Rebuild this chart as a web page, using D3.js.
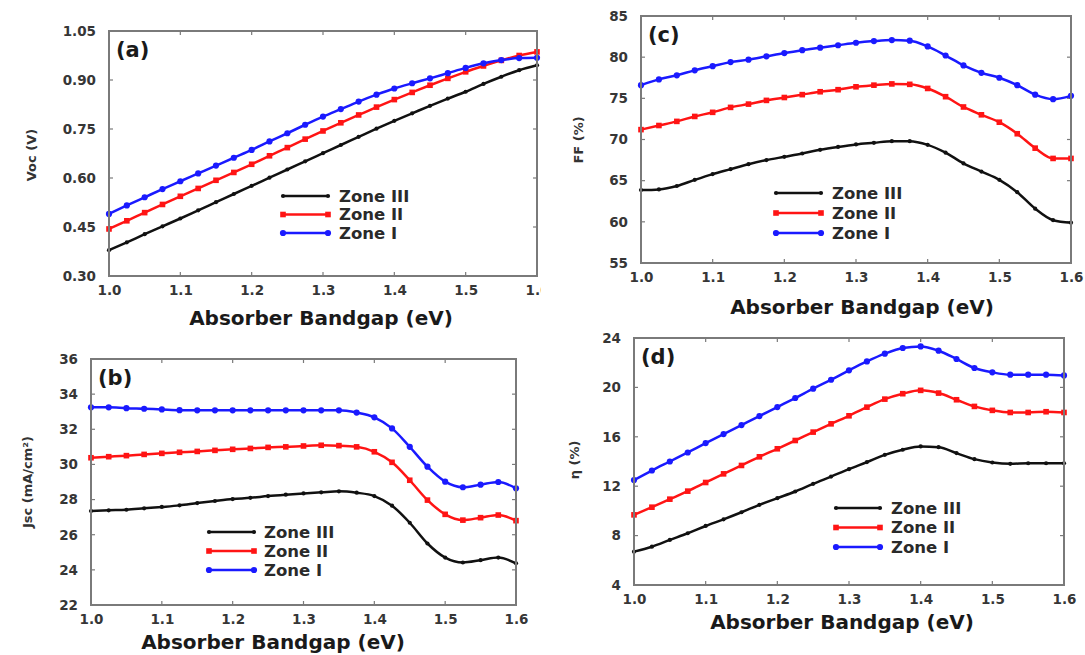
<!DOCTYPE html>
<html>
<head>
<meta charset="utf-8">
<script src="https://cdn.jsdelivr.net/npm/d3@7/dist/d3.min.js"></script>
<style>
  html, body { margin: 0; padding: 0; background: #fff; }
  svg { display: block; }
  text { font-family: "DejaVu Sans", Verdana, sans-serif; font-weight: bold; }
</style>
</head>
<body>
<svg id="fig" width="1085" height="655"></svg>
<script>
// Absorber bandgap sweep (eV), shared by all four panels
const bandgap = [1.000, 1.025, 1.050, 1.075, 1.100, 1.125, 1.150, 1.175, 1.200, 1.225, 1.250, 1.275, 1.300,
                 1.325, 1.350, 1.375, 1.400, 1.425, 1.450, 1.475, 1.500, 1.525, 1.550, 1.575, 1.600];

const zoneNames = ["Zone III", "Zone II", "Zone I"];
const xTicks = [1.0, 1.1, 1.2, 1.3, 1.4, 1.5, 1.6];

// (a) Open-circuit voltage, V
const vocZone1 = [0.490, 0.516, 0.541, 0.566, 0.590, 0.614, 0.638, 0.662, 0.686, 0.712, 0.737, 0.763, 0.788,
                  0.811, 0.834, 0.855, 0.874, 0.890, 0.905, 0.921, 0.937, 0.951, 0.961, 0.967, 0.968];
const vocZone2 = [0.444, 0.469, 0.494, 0.519, 0.544, 0.568, 0.593, 0.617, 0.642, 0.668, 0.693, 0.719, 0.744,
                  0.769, 0.793, 0.817, 0.840, 0.862, 0.884, 0.905, 0.925, 0.943, 0.960, 0.975, 0.986];
const vocZone3 = [0.379, 0.403, 0.428, 0.452, 0.476, 0.501, 0.526, 0.551, 0.576, 0.601, 0.626, 0.651, 0.676,
                  0.701, 0.726, 0.751, 0.775, 0.798, 0.821, 0.843, 0.864, 0.888, 0.910, 0.930, 0.945];
const vocTicks = [0.30, 0.45, 0.60, 0.75, 0.90, 1.05];

// (b) Short-circuit current density, mA/cm2
const jscZone1 = [33.25, 33.25, 33.20, 33.17, 33.13, 33.09, 33.08, 33.08, 33.08, 33.08, 33.08, 33.08, 33.08,
                  33.08, 33.08, 32.95, 32.68, 32.05, 31.00, 29.87, 29.02, 28.70, 28.85, 29.00, 28.64];
const jscZone2 = [30.38, 30.44, 30.50, 30.57, 30.63, 30.69, 30.74, 30.80, 30.86, 30.91, 30.97, 31.00, 31.05,
                  31.09, 31.07, 31.00, 30.72, 30.12, 29.10, 27.97, 27.16, 26.83, 26.97, 27.12, 26.80];
const jscZone3 = [27.35, 27.39, 27.42, 27.50, 27.58, 27.67, 27.80, 27.92, 28.03, 28.10, 28.20, 28.28, 28.35,
                  28.41, 28.47, 28.39, 28.20, 27.65, 26.68, 25.50, 24.70, 24.42, 24.55, 24.70, 24.37];
const jscTicks = [22, 24, 26, 28, 30, 32, 34, 36];

// (c) Fill factor, %
const ffZone1 = [76.60, 77.30, 77.80, 78.40, 78.90, 79.40, 79.70, 80.10, 80.50, 80.85, 81.15, 81.45, 81.75,
                 81.95, 82.07, 82.00, 81.30, 80.20, 79.00, 78.10, 77.50, 76.60, 75.45, 74.90, 75.30];
const ffZone2 = [71.20, 71.70, 72.20, 72.80, 73.30, 73.90, 74.30, 74.75, 75.10, 75.45, 75.80, 76.05, 76.40,
                 76.60, 76.75, 76.70, 76.20, 75.20, 73.95, 73.00, 72.10, 70.70, 68.95, 67.70, 67.70];
const ffZone3 = [63.86, 63.94, 64.35, 65.10, 65.80, 66.40, 67.00, 67.50, 67.90, 68.30, 68.75, 69.10, 69.40,
                 69.60, 69.80, 69.80, 69.35, 68.40, 67.10, 66.10, 65.10, 63.60, 61.60, 60.20, 59.90];
const ffTicks = [55, 60, 65, 70, 75, 80, 85];

// (d) Power conversion efficiency, %
const etaZone1 = [12.50, 13.27, 14.00, 14.73, 15.49, 16.22, 16.95, 17.68, 18.41, 19.14, 19.90, 20.62, 21.38,
                  22.10, 22.73, 23.19, 23.32, 22.97, 22.30, 21.57, 21.22, 21.03, 21.03, 21.03, 20.97];
const etaZone2 = [9.68, 10.30, 10.95, 11.60, 12.30, 13.00, 13.68, 14.38, 15.03, 15.70, 16.38, 17.05, 17.70,
                  18.40, 19.05, 19.49, 19.76, 19.54, 19.00, 18.46, 18.14, 17.97, 17.97, 18.03, 17.97];
const etaZone3 = [6.70, 7.10, 7.65, 8.19, 8.78, 9.32, 9.89, 10.49, 11.03, 11.57, 12.19, 12.78, 13.38,
                  13.95, 14.54, 14.95, 15.22, 15.16, 14.68, 14.19, 13.92, 13.81, 13.86, 13.86, 13.86];
const etaTicks = [4, 8, 12, 16, 20, 24];

// Series styling, in legend order (Zone III, Zone II, Zone I)
const seriesStyle = [
  { color: "#111111", marker: "dot" },
  { color: "#ff1414", marker: "square" },
  { color: "#1a1aff", marker: "circle" }
];

// Panel geometry and labels; clipRight trims the bottom labels where the panel was cropped
const panels = [
  { tag: "(a)", ylabel: "Voc (V)", ticks: vocTicks, fmt: d3.format(".2f"),
    series: [vocZone3, vocZone2, vocZone1],
    box: { l: 109, r: 537, t: 31, b: 276 }, clipRight: 541,
    ylabelPos: [31, 155], titleX: 321, titleDy: 42,
    legend: { x1: 283, x2: 328, tx: 339, y: 196, gap: 18.5 } },
  { tag: "(b)", ylabel: "Jsc (mA/cm\u00B2)", ticks: jscTicks, fmt: d3.format("d"),
    series: [jscZone3, jscZone2, jscZone1],
    box: { l: 91, r: 516, t: 359, b: 605 },
    ylabelPos: [27, 482], titleX: 273, titleDy: 37,
    legend: { x1: 209, x2: 254, tx: 264, y: 532, gap: 19 } },
  { tag: "(c)", ylabel: "FF (%)", ticks: ffTicks, fmt: d3.format("d"),
    series: [ffZone3, ffZone2, ffZone1],
    box: { l: 641, r: 1071, t: 16, b: 263 },
    ylabelPos: [578, 140], titleX: 862, titleDy: 44,
    legend: { x1: 776, x2: 821, tx: 832, y: 193, gap: 20 } },
  { tag: "(d)", ylabel: "\u03B7 (%)", ticks: etaTicks, fmt: d3.format("d"),
    series: [etaZone3, etaZone2, etaZone1],
    box: { l: 634, r: 1064, t: 338, b: 585 },
    ylabelPos: [574, 460], titleX: 842, titleDy: 37,
    legend: { x1: 836, x2: 880, tx: 891, y: 508, gap: 19.5 } }
];

const svg = d3.select("#fig");
const defs = svg.append("defs");
const frameColor = "#7a7a7a";
const tickTextColor = "#363636";

function drawMarker(g, kind, color, x, y) {
  if (kind === "square") {
    g.append("rect").attr("x", x - 2.8).attr("y", y - 2.8)
      .attr("width", 5.6).attr("height", 5.6).attr("fill", color);
  } else if (kind === "circle") {
    g.append("circle").attr("cx", x).attr("cy", y).attr("r", 3.1).attr("fill", color);
  } else {
    g.append("circle").attr("cx", x).attr("cy", y).attr("r", 2.1).attr("fill", color);
  }
}

panels.forEach((p, pi) => {
  const g = svg.append("g");
  const bx = p.box;
  const x = d3.scaleLinear().domain([1.0, 1.6]).range([bx.l, bx.r]);
  const y = d3.scaleLinear().domain([p.ticks[0], p.ticks[p.ticks.length - 1]]).range([bx.b, bx.t]);

  // Bottom axis labels
  const xAxis = d3.axisBottom(x).tickValues(xTicks).tickFormat(d3.format(".1f")).tickSize(0).tickPadding(9);
  const gx = g.append("g").attr("transform", `translate(0,${bx.b})`).call(xAxis);
  gx.select(".domain").remove();
  gx.selectAll("text").attr("font-size", 13.5).attr("fill", tickTextColor)
    .style("font-family", "DejaVu Sans").style("font-weight", "bold");
  if (p.clipRight) {
    const id = "cut" + pi;
    defs.append("clipPath").attr("id", id).append("rect")
      .attr("x", 0).attr("y", 0).attr("width", p.clipRight).attr("height", 655);
    gx.attr("clip-path", `url(#${id})`);
    gx.attr("clip-path", null);
    const wrap = g.append("g").attr("clip-path", `url(#${id})`);
    wrap.node().appendChild(gx.node());
  }

  // Left axis labels
  const yAxis = d3.axisLeft(y).tickValues(p.ticks).tickFormat(p.fmt).tickSize(0).tickPadding(13);
  const gy = g.append("g").attr("transform", `translate(${bx.l},0)`).call(yAxis);
  gy.select(".domain").remove();
  gy.selectAll("text").attr("font-size", 13.5).attr("fill", tickTextColor)
    .style("font-family", "DejaVu Sans").style("font-weight", "bold");

  // Inward tick marks on all four sides
  const tk = g.append("g").attr("stroke", frameColor).attr("stroke-width", 1.2);
  xTicks.forEach(v => {
    tk.append("line").attr("x1", x(v)).attr("x2", x(v)).attr("y1", bx.b).attr("y2", bx.b - 4);
    tk.append("line").attr("x1", x(v)).attr("x2", x(v)).attr("y1", bx.t).attr("y2", bx.t + 4);
  });
  p.ticks.forEach(v => {
    tk.append("line").attr("x1", bx.l).attr("x2", bx.l + 4).attr("y1", y(v)).attr("y2", y(v));
    tk.append("line").attr("x1", bx.r).attr("x2", bx.r - 4).attr("y1", y(v)).attr("y2", y(v));
  });

  // Curves with markers
  const line = d3.line().x((d, i) => x(bandgap[i])).y(d => y(d)).curve(d3.curveMonotoneX);
  p.series.forEach((vals, si) => {
    const st = seriesStyle[si];
    g.append("path").datum(vals).attr("d", line)
      .attr("fill", "none").attr("stroke", st.color).attr("stroke-width", 2.5)
      .attr("stroke-linejoin", "round");
    const mg = g.append("g");
    vals.forEach((v, i) => drawMarker(mg, st.marker, st.color, x(bandgap[i]), y(v)));
  });

  // Frame
  g.append("rect").attr("x", bx.l).attr("y", bx.t)
    .attr("width", bx.r - bx.l).attr("height", bx.b - bx.t)
    .attr("fill", "none").attr("stroke", frameColor).attr("stroke-width", 2);

  // Panel tag
  g.append("text").attr("x", bx.l + 7).attr("y", bx.t + 26)
    .attr("font-size", 21).attr("fill", "#1a1a1a").text(p.tag);

  // Legend
  const lg = p.legend;
  zoneNames.forEach((name, i) => {
    const st = seriesStyle[i];
    const ly = lg.y + i * lg.gap;
    g.append("line").attr("x1", lg.x1).attr("x2", lg.x2).attr("y1", ly).attr("y2", ly)
      .attr("stroke", st.color).attr("stroke-width", 2.6);
    drawMarker(g, st.marker, st.color, lg.x1, ly);
    drawMarker(g, st.marker, st.color, lg.x2, ly);
    g.append("text").attr("x", lg.tx).attr("y", ly).attr("dy", "0.36em")
      .attr("font-size", 16.5).attr("fill", "#2a2a2a").text(name);
  });

  // Axis titles
  g.append("text").attr("x", p.titleX).attr("y", bx.b + p.titleDy).attr("dy", "0.36em")
    .attr("text-anchor", "middle").attr("font-size", 20).attr("fill", "#1a1a1a")
    .text("Absorber Bandgap (eV)");
  g.append("text")
    .attr("transform", `translate(${p.ylabelPos[0]},${p.ylabelPos[1]}) rotate(-90)`)
    .attr("text-anchor", "middle").attr("dy", "0.36em")
    .attr("font-size", 13).attr("fill", "#333").text(p.ylabel);
});
</script>
</body>
</html>
